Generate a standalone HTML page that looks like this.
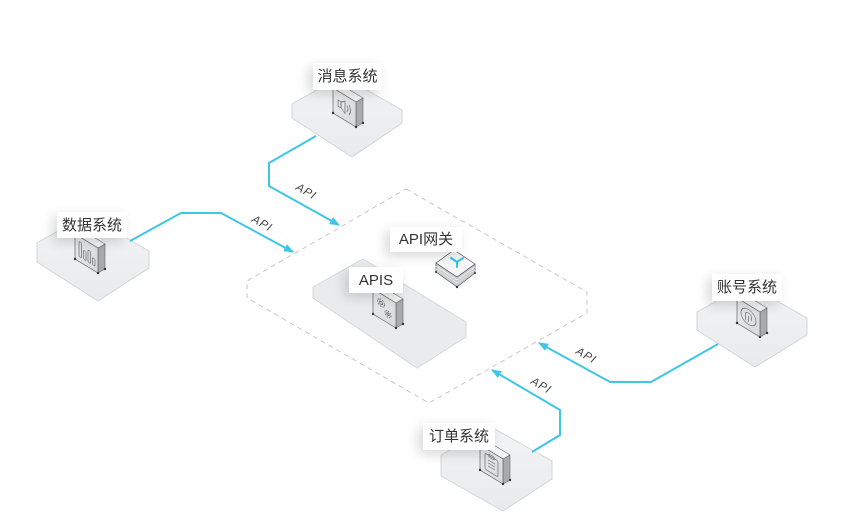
<!DOCTYPE html>
<html><head><meta charset="utf-8">
<style>
html,body{margin:0;padding:0;background:#fff;}
#wrap{position:relative;width:854px;height:521px;overflow:hidden;background:#fff;font-family:"Liberation Sans","Noto Sans CJK SC",sans-serif;}
svg{position:absolute;left:0;top:0;}
.lb{position:absolute;background:#fff;color:#333;font-size:15px;line-height:1;display:flex;align-items:center;justify-content:center;box-shadow:-4px 4px 12px rgba(0,0,0,0.16);white-space:nowrap;}
.api{position:absolute;font-size:11.5px;color:#444;letter-spacing:1px;transform:rotate(30deg);transform-origin:center;font-style:italic;}
</style></head>
<body><div id="wrap">
<svg width="854" height="521" viewBox="0 0 854 521" xmlns="http://www.w3.org/2000/svg">
<defs>
<linearGradient id="tg" x1="0" y1="0" x2="0" y2="1">
<stop offset="0" stop-color="#f3f4f6"/><stop offset="1" stop-color="#e8eaec"/>
</linearGradient>
<linearGradient id="fg" x1="0" y1="0" x2="1" y2="1">
<stop offset="0" stop-color="#ececee"/><stop offset="1" stop-color="#d6d8db"/>
</linearGradient>
<marker id="ar" markerWidth="10" markerHeight="8" refX="9" refY="4" orient="auto" markerUnits="userSpaceOnUse">
<path d="M0,0 L10,4 L0,8 Z" fill="#3ec6e6"/>
</marker>
</defs>

<!-- dashed region -->
<polygon points="406,189 587,292 587,313 429,403 247,298 247,281" fill="none" stroke="#c9c9c9" stroke-width="1" stroke-dasharray="5 4"/>

<!-- tiles -->
<polygon points="292,104 342,76 402,110 402,123 352,157 292,118" fill="url(#tg)" stroke="#d3d6d9" stroke-width="1"/>
<polygon points="37,243 86,215 149,251 149,268 98,301 37,262" fill="url(#tg)" stroke="#d3d6d9" stroke-width="1"/>
<polygon points="697,312 747,284 807,318 807,335 755,367 697,330" fill="url(#tg)" stroke="#d3d6d9" stroke-width="1"/>
<polygon points="441,455 491,427 552,461 552,479 503,511 441,476" fill="url(#tg)" stroke="#d3d6d9" stroke-width="1"/>

<!-- APIS slab -->
<polygon points="363,259 466,322 466,337 417,368 313,298 313,287" fill="#e9ebed" stroke="#d6d8db" stroke-width="1"/>

<!-- connectors -->
<g fill="none" stroke="#3ec6e6" stroke-width="2" stroke-linejoin="miter">
<polyline points="316,136 269,163 269,186 339,225" marker-end="url(#ar)"/>
<polyline points="130,241 181,213 221,213 293,252" marker-end="url(#ar)"/>
<polyline points="718,344 651,382 610,382 539,343" marker-end="url(#ar)"/>
<polyline points="532,452 560,435 560,410 492,370" marker-end="url(#ar)"/>
</g>

<!-- device boxes -->
<g id="dev-msg" transform="translate(356,127)">
<polygon points="-23,-39 0,-25 7,-29 -16,-43" fill="#f5f5f5" stroke="#777" stroke-width="0.6"/>
<polygon points="0,-25 7,-29 7,-4 0,0" fill="#a8abae" stroke="#666" stroke-width="0.6"/>
<polygon points="-23,-39 0,-25 0,0 -23,-14" fill="url(#fg)" stroke="#666" stroke-width="0.7"/>
<g transform="matrix(1,0.609,0,1,-23,-39)" fill="none" stroke="#777" stroke-width="0.8">
<rect x="5" y="9" width="3" height="6"/><polygon points="8,9 12,6 12,18 8,15"/>
<path d="M14,9 Q16,12 14,15"/><path d="M16,7 Q19,12 16,17"/>
</g>
<g fill="#333"><circle cx="-23" cy="-14" r="1.2"/><circle cx="0" cy="0" r="1.2"/><circle cx="7" cy="-4" r="1.2"/></g>
</g>

<g transform="translate(98,273)">
<polygon points="-23,-39 0,-25 7,-29 -16,-43" fill="#f5f5f5" stroke="#777" stroke-width="0.6"/>
<polygon points="0,-25 7,-29 7,-4 0,0" fill="#a8abae" stroke="#666" stroke-width="0.6"/>
<polygon points="-23,-39 0,-25 0,0 -23,-14" fill="url(#fg)" stroke="#666" stroke-width="0.7"/>
<g transform="matrix(1,0.609,0,1,-23,-39)" fill="none" stroke="#777" stroke-width="0.8">
<rect x="4" y="5" width="2.5" height="15" rx="1"/><rect x="8.5" y="11" width="2.5" height="9" rx="1"/>
<rect x="13" y="8" width="2.5" height="12" rx="1"/><rect x="17.5" y="13" width="2.5" height="7" rx="1"/>
</g>
<g fill="#333"><circle cx="-23" cy="-14" r="1.2"/><circle cx="0" cy="0" r="1.2"/><circle cx="7" cy="-4" r="1.2"/></g>
</g>

<g transform="translate(760,337)">
<polygon points="-23,-39 0,-25 7,-29 -16,-43" fill="#f5f5f5" stroke="#777" stroke-width="0.6"/>
<polygon points="0,-25 7,-29 7,-4 0,0" fill="#a8abae" stroke="#666" stroke-width="0.6"/>
<polygon points="-23,-39 0,-25 0,0 -23,-14" fill="url(#fg)" stroke="#666" stroke-width="0.7"/>
<g transform="matrix(1,0.609,0,1,-23,-39)" fill="none" stroke="#777" stroke-width="0.8">
<circle cx="11.5" cy="12" r="7.5"/><path d="M8.5,17 L8.5,11 Q8.5,8 11.5,8 Q14.5,8 14.5,11 L14.5,14 M11.5,11 L11.5,17"/>
</g>
<g fill="#333"><circle cx="-23" cy="-14" r="1.2"/><circle cx="0" cy="0" r="1.2"/><circle cx="7" cy="-4" r="1.2"/></g>
</g>

<g transform="translate(503,484)">
<polygon points="-23,-39 0,-25 7,-29 -16,-43" fill="#f7f7f7" stroke="#777" stroke-width="0.6"/>
<polygon points="0,-25 7,-29 7,-4 0,0" fill="#a8abae" stroke="#666" stroke-width="0.6"/>
<polygon points="-23,-39 0,-25 0,0 -23,-14" fill="url(#fg)" stroke="#666" stroke-width="0.7"/>
<g transform="matrix(1,0.609,0,1,-23,-39)" fill="none" stroke="#777" stroke-width="0.8">
<rect x="5" y="5" width="13" height="16" rx="1.5"/><rect x="9" y="3.5" width="5" height="3"/>
<line x1="8" y1="10" x2="15" y2="10"/><line x1="8" y1="13" x2="15" y2="13"/><line x1="8" y1="16" x2="15" y2="16"/>
</g>
<g fill="#333"><circle cx="-23" cy="-14" r="1.2"/><circle cx="0" cy="0" r="1.2"/><circle cx="7" cy="-4" r="1.2"/></g>
</g>

<g transform="translate(396,328)">
<polygon points="-23,-39 0,-25 7,-29 -16,-43" fill="#f5f5f5" stroke="#777" stroke-width="0.6"/>
<polygon points="0,-25 7,-29 7,-4 0,0" fill="#a8abae" stroke="#666" stroke-width="0.6"/>
<polygon points="-23,-39 0,-25 0,0 -23,-14" fill="url(#fg)" stroke="#666" stroke-width="0.7"/>
<g transform="matrix(1,0.609,0,1,-23,-39)" fill="none" stroke="#666" stroke-width="0.9">
<circle cx="8" cy="9" r="3.5" stroke-dasharray="1.5 1"/><circle cx="8" cy="9" r="1.5"/>
<circle cx="15" cy="16" r="3" stroke-dasharray="1.3 1"/><circle cx="15" cy="16" r="1.2"/>
</g>
<g fill="#333"><circle cx="-23" cy="-14" r="1.2"/><circle cx="0" cy="0" r="1.2"/><circle cx="7" cy="-4" r="1.2"/></g>
</g>

<!-- gateway box -->
<g>
<polygon points="436,263 457,277 475,264 475,273 457,287 436,272" fill="#c9cbce" stroke="#555" stroke-width="0.7"/>
<line x1="436" y1="266" x2="457" y2="280" stroke="#f2f2f2" stroke-width="1"/>
<line x1="457" y1="280" x2="475" y2="267" stroke="#eee" stroke-width="1"/>
<line x1="436" y1="269" x2="457" y2="283" stroke="#e6e6e6" stroke-width="1"/>
<line x1="457" y1="283" x2="475" y2="270" stroke="#e0e0e0" stroke-width="1"/>
<polygon points="436,263 454,250 475,264 457,277" fill="#f6f6f7" stroke="#555" stroke-width="0.7"/>
<g stroke="#2ec4ec" stroke-width="2" fill="none" stroke-linecap="round">
<line x1="457" y1="262" x2="457" y2="267"/><line x1="457" y1="262" x2="451" y2="258"/><line x1="457" y1="262" x2="463" y2="258"/>
</g>
<g fill="#333"><circle cx="436" cy="272" r="1"/><circle cx="457" cy="287" r="1.2"/><circle cx="475" cy="273" r="1"/></g>
</g>
</svg>

<div class="lb" style="left:313px;top:63px;width:69px;height:27px;">消息系统</div>
<div class="lb" style="left:57px;top:212px;width:70px;height:26px;">数据系统</div>
<div class="lb" style="left:712px;top:274px;width:70px;height:27px;">账号系统</div>
<div class="lb" style="left:423px;top:423px;width:72px;height:27px;">订单系统</div>
<div class="lb" style="left:390px;top:227px;width:72px;height:25px;">API网关</div>
<div class="lb" style="left:349px;top:267px;width:54px;height:26px;">APIS</div>

<div class="api" style="left:295px;top:186px;">API</div>
<div class="api" style="left:251px;top:218px;">API</div>
<div class="api" style="left:575px;top:350px;">API</div>
<div class="api" style="left:530px;top:380px;">API</div>
</div></body></html>
